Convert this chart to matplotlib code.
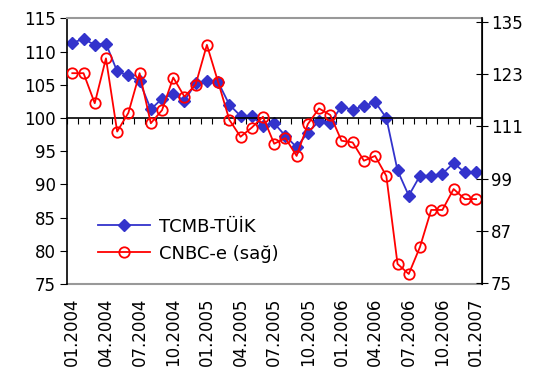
import matplotlib
matplotlib.use('Agg')
import matplotlib.pyplot as plt
import numpy as np

# monthly index values, 01.2004 - 01.2007
tcmb = [111.3, 111.9, 111.0, 111.2, 107.0, 106.4, 105.5, 101.3, 102.9, 103.6,
        102.6, 105.2, 105.5, 105.4, 102.0, 100.3, 100.3, 98.8, 99.2, 97.3,
        95.6, 97.8, 99.5, 99.3, 101.7, 101.2, 101.8, 102.4, 100.0, 92.1,
        88.3, 91.3, 91.3, 91.6, 93.2, 91.8, 91.8]
cnbc = [123.2, 123.2, 116.3, 126.6, 109.8, 114.1, 123.2, 111.7, 114.7, 122.2,
        117.8, 120.6, 129.7, 121.2, 112.5, 108.6, 110.7, 113.2, 107.0, 108.3,
        104.2, 111.5, 115.1, 113.6, 107.7, 107.3, 103.1, 104.2, 99.6, 79.4,
        77.1, 83.3, 91.8, 91.8, 96.6, 94.3, 94.3]
tick_labels = ['01.2004', '04.2004', '07.2004', '10.2004', '01.2005', '04.2005',
               '07.2005', '10.2005', '01.2006', '04.2006', '07.2006', '10.2006',
               '01.2007']
left_ticks = [75, 80, 85, 90, 95, 100, 105, 110, 115]
right_ticks = [75, 87, 99, 111, 123, 135]

blue = '#3333CC'
red = '#FF0000'
plt.rcParams['font.family'] = 'DejaVu Sans'

fig = plt.figure(figsize=(5.41, 3.72), dpi=100)
ax = fig.add_axes([0.1233, 0.2366, 0.767, 0.7142])
x = np.arange(len(tcmb))

l1, = ax.plot(x, tcmb, color=blue, lw=1.3, marker='D', ms=6.5,
              mfc=blue, mec=blue, label='TCMB-TÜİK')
ax.set_xlim(-0.5, len(tcmb) - 0.5)
ax.set_ylim(75, 115)
ax.set_yticks(left_ticks)
ax.tick_params(axis='y', direction='out', length=5, labelsize=12, pad=3)

# x axis line sits at 100, with a tick at each month boundary
ax.spines['bottom'].set_position(('data', 100))
ax.spines['bottom'].set_linewidth(1.2)
ax.set_xticks(np.arange(-0.5, len(tcmb), 1))
ax.set_xticklabels([])
ax.tick_params(axis='x', direction='out', length=4)
ax.spines['top'].set_color('#999999')
ax.spines['top'].set_linewidth(1.5)
ax.spines['left'].set_linewidth(1.2)

# date labels along the bottom edge
sec = ax.secondary_xaxis('bottom')
sec.set_xticks(x[::3])
sec.set_xticklabels(tick_labels, rotation=90, fontsize=12)
sec.tick_params(length=0, pad=10)
sec.spines['bottom'].set_color('#999999')
sec.spines['bottom'].set_linewidth(1.5)

ax2 = ax.twinx()
l2, = ax2.plot(x, cnbc, color=red, lw=1.3, marker='o', ms=7.5,
               mfc='none', mec=red, mew=1.3, label='CNBC-e (sağ)')
ax2.set_ylim(74.8, 135.8)
ax2.set_yticks(right_ticks)
ax2.tick_params(axis='y', direction='inout', length=9, labelsize=12, pad=2)
ax2.spines['right'].set_linewidth(1.2)
ax2.spines['top'].set_visible(False)
ax2.spines['bottom'].set_visible(False)
ax2.spines['left'].set_visible(False)

ax2.legend(handles=[l1, l2], loc='lower left', bbox_to_anchor=(0.075, 0.08),
           frameon=False, fontsize=13, handlelength=2.9, handletextpad=0.5,
           labelspacing=0.5, borderpad=0, borderaxespad=0)

fig.savefig('out.png', dpi=100)
